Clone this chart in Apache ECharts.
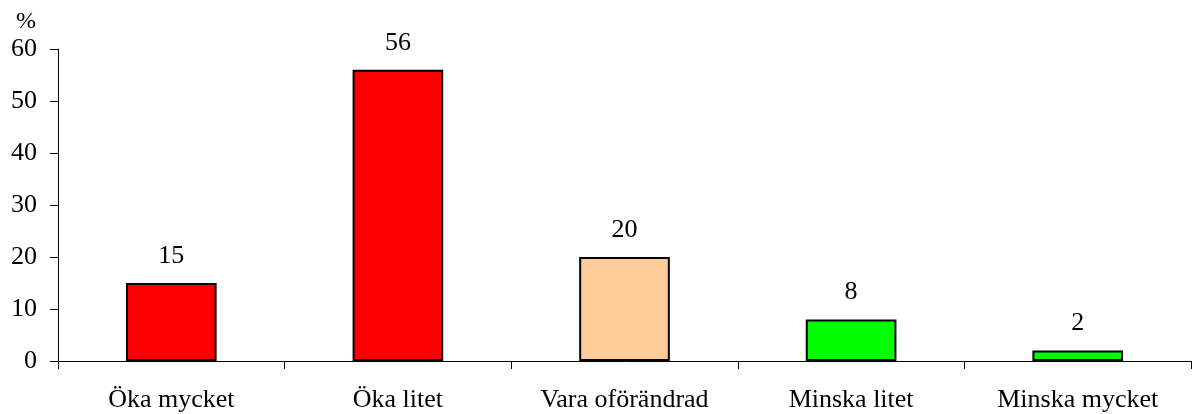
<!DOCTYPE html>
<html>
<head>
<meta charset="utf-8">
<script src="https://cdn.jsdelivr.net/npm/echarts@6/dist/echarts.min.js"></script>
<style>
	html, body { margin: 0; padding: 0; background: #fff; }
	#chart { width: 1192px; height: 414px; }
</style>
</head>
<body>
<div id="chart"></div>
<script>
var categories = ['Öka mycket', 'Öka litet', 'Vara oförändrad', 'Minska litet', 'Minska mycket'];
var values = [15, 56, 20, 8, 2];
var barColors = ['#ff0000', '#ff0000', '#ffcc99', '#00ff00', '#00ff00'];
var yTicks = [0, 10, 20, 30, 40, 50, 60];

var font = 'Liberation Serif, Times New Roman, serif';
var chart = echarts.init(document.getElementById('chart'));

var barData = [];
for (var i = 0; i < values.length; i++) {
	barData.push({
		value: values[i],
		itemStyle: { color: barColors[i] }
	});
}

var option = {
	backgroundColor: '#fff',
	animation: false,
	grid: { left: 58, right: 1, top: 49, bottom: 53, containLabel: false },
	xAxis: {
		type: 'category',
		data: categories,
		axisLine: { lineStyle: { color: '#000', width: 1 } },
		axisTick: { show: true, length: 8, lineStyle: { color: '#000' } },
		axisLabel: { color: '#000', fontFamily: font, fontSize: 26, margin: 26 }
	},
	yAxis: {
		type: 'value',
		min: yTicks[0],
		max: yTicks[yTicks.length - 1],
		interval: 10,
		name: '%',
		nameGap: 15,
		nameTextStyle: { color: '#000', fontFamily: font, fontSize: 24, align: 'right', padding: [0, 22, 0, 0] },
		axisLine: { show: true, lineStyle: { color: '#000', width: 1 } },
		axisTick: { show: true, length: 8, lineStyle: { color: '#000' } },
		axisLabel: { color: '#000', fontFamily: font, fontSize: 26, margin: 21 },
		splitLine: { show: false }
	},
	series: [{
		type: 'bar',
		data: barData,
		barWidth: '40%',
		itemStyle: { borderColor: '#000', borderWidth: 2 },
		label: {
			show: true,
			position: 'top',
			distance: 14,
			color: '#000',
			fontFamily: font,
			fontSize: 26
		}
	}]
};
chart.setOption(option);
</script>
</body>
</html>
